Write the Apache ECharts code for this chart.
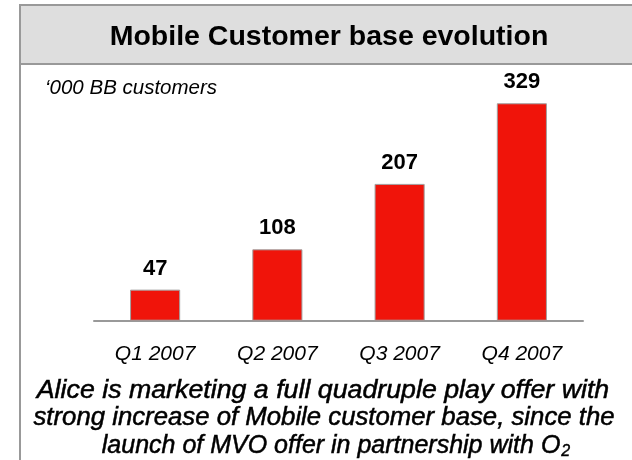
<!DOCTYPE html>
<html>
<head>
<meta charset="utf-8">
<script src="https://cdn.jsdelivr.net/npm/echarts@6/dist/echarts.min.js"></script>
<style>html,body{margin:0;padding:0;background:#fff;}#c{width:632px;height:460px;}</style>
</head>
<body>
<div id="c"></div>
<script>
const titleText = 'Mobile Customer base evolution';
const unitText = '\u2018000 BB customers';
const categories = ['Q1 2007', 'Q2 2007', 'Q3 2007', 'Q4 2007'];
const customers = [47, 108, 207, 329];
const noteLines = [
  'Alice is marketing a full quadruple play offer with',
  'strong increase of Mobile customer base, since the',
  'launch of MVO offer in partnership with O{sub|2}'
];

const noteFont = 'italic 25px "Liberation Sans"';
function noteText(i, x, y, sx) {
  return {type: 'text', x: x, y: y, scaleX: sx, originX: 0, originY: 0, z: 2,
    style: {text: noteLines[i], fill: '#000', stroke: '#000', lineWidth: 0.5, font: noteFont,
      textAlign: 'center', textVerticalAlign: 'middle',
      rich: {sub: {font: 'italic 16px "Liberation Sans"', fill: '#000', stroke: '#000', lineWidth: 0.4, padding: [11, 0, 0, 1]}}}};
}

const chart = echarts.init(document.getElementById('c'), null, {renderer: 'canvas'});
chart.setOption({
  animation: false,
  backgroundColor: '#ffffff',
  grid: {left: 94, right: 49, top: 89.4, bottom: 139.3, containLabel: false},
  xAxis: {
    type: 'category',
    data: categories,
    axisLine: {lineStyle: {color: '#999999', width: 2}},
    axisTick: {show: false},
    axisLabel: {margin: 23, color: '#000', fontFamily: 'Liberation Sans', fontStyle: 'italic', fontSize: 21}
  },
  yAxis: {type: 'value', min: 0, max: 350, show: false, splitLine: {show: false}},
  series: [{
    type: 'bar',
    data: customers,
    barWidth: '41%',
    itemStyle: {color: '#f0140a', borderColor: '#a0a0a0', borderWidth: 1},
    label: {show: true, position: 'top', distance: 10, color: '#000', fontFamily: 'Liberation Sans', fontWeight: 'bold', fontSize: 22}
  }],
  graphic: [
    {type: 'rect', shape: {x: 20, y: 5, width: 640, height: 59}, style: {fill: '#dedede', stroke: '#999999', lineWidth: 2}, z: 1},
    {type: 'line', shape: {x1: 20, y1: 64, x2: 20, y2: 460}, style: {stroke: '#999999', lineWidth: 2}, z: 1},
    {type: 'text', x: 329, y: 37, z: 2,
      style: {text: titleText, fill: '#000', font: 'bold 28.5px "Liberation Sans"', textAlign: 'center', textVerticalAlign: 'middle'}},
    {type: 'text', x: 45, y: 88, z: 2,
      style: {text: unitText, fill: '#000', font: 'italic 20.5px "Liberation Sans"', textAlign: 'left', textVerticalAlign: 'middle'}},
    noteText(0, 323, 391, 1.07),
    noteText(1, 324, 418, 1.03),
    noteText(2, 336, 446, 1.0)
  ]
});
</script>
</body>
</html>
